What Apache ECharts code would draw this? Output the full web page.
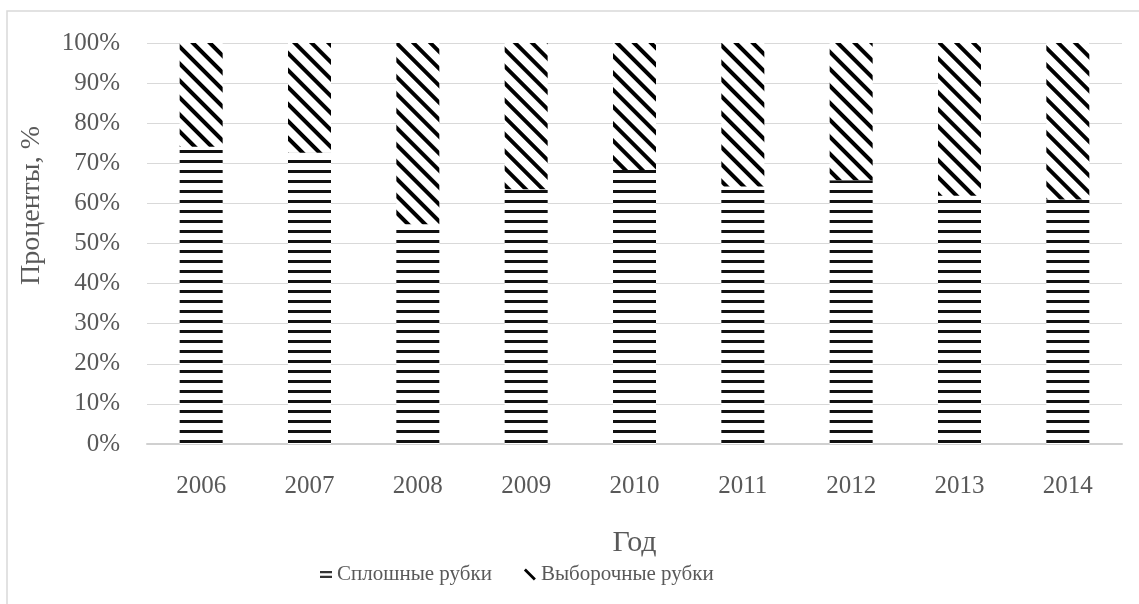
<!DOCTYPE html>
<html>
<head>
<meta charset="utf-8">
<script src="https://cdn.jsdelivr.net/npm/echarts@6/dist/echarts.min.js"></script>
<style>
  html, body { margin: 0; padding: 0; background: #fff; }
  #chart { width: 1139px; height: 604px; }
</style>
</head>
<body>
<div id="chart"></div>
<script>
const years = ['2006', '2007', '2008', '2009', '2010', '2011', '2012', '2013', '2014'];
// share of clear cuts and selective cuts, %
const clearCuts = [74.1, 72.6, 54.8, 63.5, 68.3, 64.2, 65.8, 61.9, 61.0];
const selectiveCuts = [25.9, 27.4, 45.2, 36.5, 31.7, 35.8, 34.2, 38.1, 39.0];
const yTicks = { min: 0, max: 100, interval: 10 };

const font = '"Liberation Serif", "Times New Roman", serif';
const textColor = '#595959';

const chart = echarts.init(document.getElementById('chart'));

chart.setOption({
  animation: false,
  backgroundColor: '#fff',
  textStyle: { fontFamily: font },
  graphic: [{
    type: 'rect',
    shape: { x: 7, y: 11, width: 1200, height: 700 },
    style: { fill: 'none', stroke: '#d9d9d9', lineWidth: 1.5 },
    silent: true
  }],
  grid: { left: 147, right: 17, top: 43, bottom: 160 },
  legend: {
    left: 320,
    top: 564,
    padding: 0,
    itemWidth: 12,
    itemHeight: 12,
    itemGap: 32,
    textStyle: { fontFamily: font, fontSize: 21, color: textColor },
    data: [
      {
        name: 'Сплошные рубки',
        icon: 'path://M0,0H12V2.2H0Z M0,4.8H12V7H0Z',
        itemStyle: { color: '#333', decal: 'none' }
      },
      {
        name: 'Выборочные рубки',
        icon: 'path://M0,2L2,0L12,10L10,12Z',
        itemStyle: { color: '#000', decal: 'none' }
      }
    ]
  },
  xAxis: {
    type: 'category',
    data: years,
    name: 'Год',
    nameLocation: 'middle',
    nameGap: 84,
    nameTextStyle: { fontFamily: font, fontSize: 30, color: textColor },
    axisLine: { lineStyle: { color: '#d0d0d0', width: 2 } },
    axisTick: { show: false },
    axisLabel: { fontFamily: font, fontSize: 25, color: textColor, margin: 30 }
  },
  yAxis: {
    type: 'value',
    min: yTicks.min,
    max: yTicks.max,
    interval: yTicks.interval,
    name: 'Проценты, %',
    nameLocation: 'middle',
    nameGap: 101,
    nameTextStyle: { fontFamily: font, fontSize: 28, color: textColor, padding: [0, 0, 0, 76] },
    axisLine: { show: false },
    axisTick: { show: false },
    axisLabel: { fontFamily: font, fontSize: 25, color: textColor, margin: 27, formatter: '{value}%' },
    splitLine: { lineStyle: { color: '#d9d9d9', width: 1 } }
  },
  series: [
    {
      name: 'Сплошные рубки',
      type: 'bar',
      stack: 'total',
      barWidth: 43,
      data: clearCuts,
      itemStyle: {
        color: '#fff',
        decal: {
          symbol: 'rect',
          symbolSize: 1,
          color: '#111',
          dashArrayX: [10, 0],
          dashArrayY: [2.2, 6.5],
          rotation: 0
        }
      }
    },
    {
      name: 'Выборочные рубки',
      type: 'bar',
      stack: 'total',
      barWidth: 43,
      data: selectiveCuts,
      itemStyle: {
        color: '#fff',
        decal: {
          symbol: 'rect',
          symbolSize: 1,
          color: '#000',
          dashArrayX: [10, 0],
          dashArrayY: [3.3, 7.7],
          rotation: Math.PI / 4
        }
      }
    }
  ]
});
</script>
</body>
</html>
